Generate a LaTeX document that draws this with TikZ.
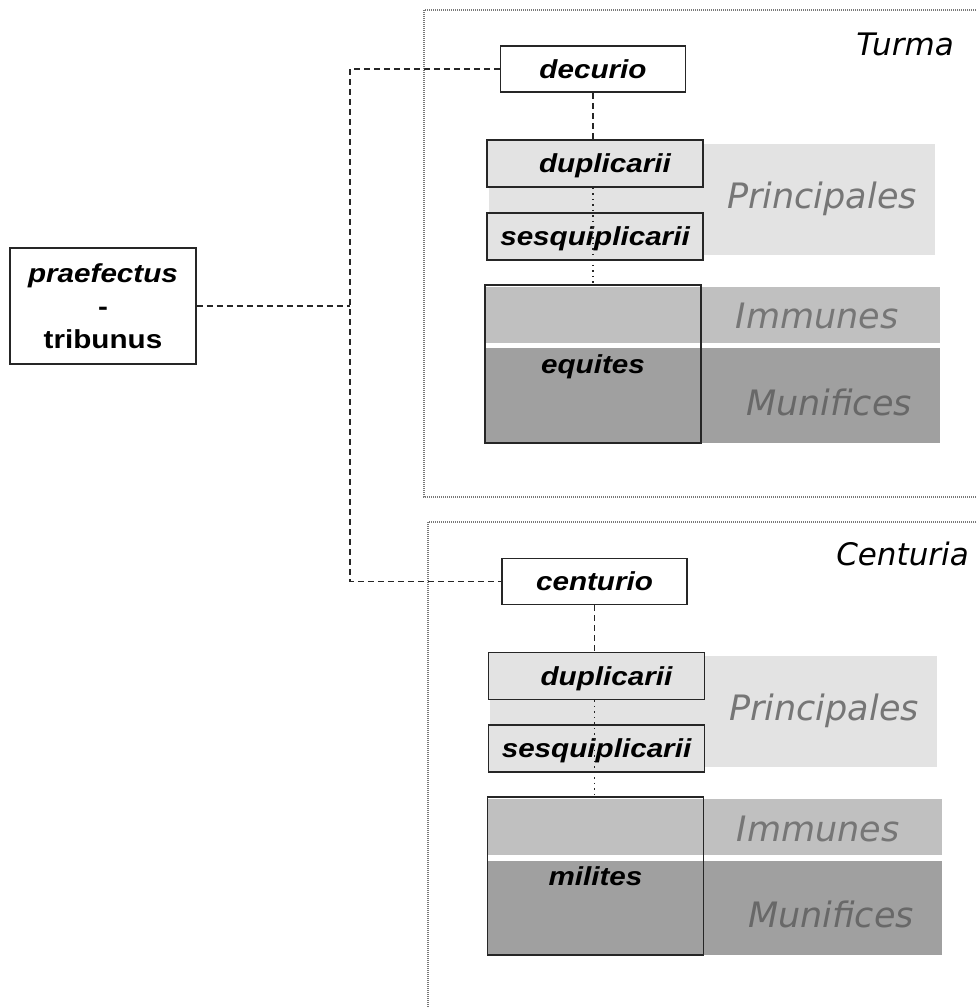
\documentclass[tikz,border=0pt]{standalone}
\usepackage{fontspec}
\newfontfamily\labfont[FakeStretch=1.14]{Liberation Sans}
\newfontfamily\ttlfont{DejaVu Sans}
\definecolor{gA}{RGB}{227,227,227}
\definecolor{gB}{RGB}{192,192,192}
\definecolor{gC}{RGB}{160,160,160}
\definecolor{gT}{RGB}{118,118,118}
\definecolor{gM}{RGB}{104,104,104}
\definecolor{gF}{RGB}{120,120,120}
\begin{document}
\begin{tikzpicture}[x=1pt,y=-1pt,
  lbox/.style={draw=black!85, line width=1.5pt, inner sep=0pt, text depth=0pt,
    font=\labfont\bfseries\itshape\fontsize{26}{30}\selectfont},
  topbox/.style={lbox, fill=white, minimum width=185pt, minimum height=46pt},
  rankbox/.style={lbox, fill=gA, minimum width=216pt, minimum height=47pt},
  troopbox/.style={lbox, minimum width=216pt, minimum height=158pt},
  grp/.style={font=\ttlfont\itshape\fontsize{35}{35}\selectfont, text=gT, inner sep=0pt},
  ttl/.style={font=\ttlfont\itshape\fontsize{31}{31}\selectfont, text=black, inner sep=0pt},
  frame/.style={draw=gF, line width=1.3pt, dash pattern=on 1pt off 1pt},
  dashline/.style={draw=black!85, line width=1.5pt, dash pattern=on 6pt off 4pt},
  dotline/.style={draw=black!85, line width=1.4pt, dash pattern=on 1.5pt off 4pt},
]
\useasboundingbox (0,0) rectangle (977,1007);
\clip (0,0) rectangle (977,1007);
\fill[white] (0,0) rectangle (977,1007);

% frames
\draw[frame] (424,10) rectangle (995,497);
\draw[frame] (428,522) rectangle (995,1020);
\node[ttl, anchor=east] (turma) at (954,44) {Turma};
\node[ttl, anchor=east] (centuria) at (969,554) {Centuria};

% ---- Turma ----
\fill[gA] (489,144) rectangle (935,255);
\fill[gB] (485,287) rectangle (940,343);
\fill[gC] (485,348) rectangle (940,443);
\node[grp] (tprinc) at (822,199) {Principales};
\node[grp] (timm) at (817,316) {Immunes};
\node[grp, text=gM] (tmun) at (829,402) {Munifices};

\node[topbox] (decurio) at (593,69) {decurio};
\node[rankbox] (tdup) at (595,163.5) {\hspace{20pt}duplicarii};
\node[rankbox] (tsesq) at (595,236.5) {sesquiplicarii};
\node[troopbox] (tequ) at (593,364) {equites};

% ---- Centuria ----
\fill[gA] (490,656) rectangle (937,767);
\fill[gB] (487,799) rectangle (942,855);
\fill[gC] (487,861) rectangle (942,955);
\node[grp] (cprinc) at (824,711) {Principales};
\node[grp] (cimm) at (818,829) {Immunes};
\node[grp, text=gM] (cmun) at (831,914) {Munifices};

\node[topbox] (centurio) at (594.5,581.5) {centurio};
\node[rankbox] (cdup) at (596.5,676) {\hspace{20pt}duplicarii};
\node[rankbox] (csesq) at (596.5,748.5) {sesquiplicarii};
\node[troopbox] (cmil) at (595.5,876) {milites};

% ---- praefectus ----
\node[draw=black!85, line width=1.5pt, inner sep=0pt, fill=white,
      minimum width=186pt, minimum height=116pt, align=center,
      font=\labfont\bfseries\fontsize{26}{33}\selectfont] (praef) at (103,306)
  {\itshape praefectus\\-\\tribunus};

% connectors
\coordinate (tr) at (350,306);
\draw[dashline] (praef.east) -- (tr);
\draw[dashline] (decurio.west) -| (tr) |- (centurio.west);
\draw[dashline] (decurio.south) -- (decurio.south |- tdup.north);
\draw[dotline] (decurio.south |- tdup.south) -- (decurio.south |- tequ.north);
\draw[dashline] (centurio.south) -- (centurio.south |- cdup.north);
\draw[dotline] (centurio.south |- cdup.south) -- (centurio.south |- cmil.north);
\end{tikzpicture}
\end{document}
